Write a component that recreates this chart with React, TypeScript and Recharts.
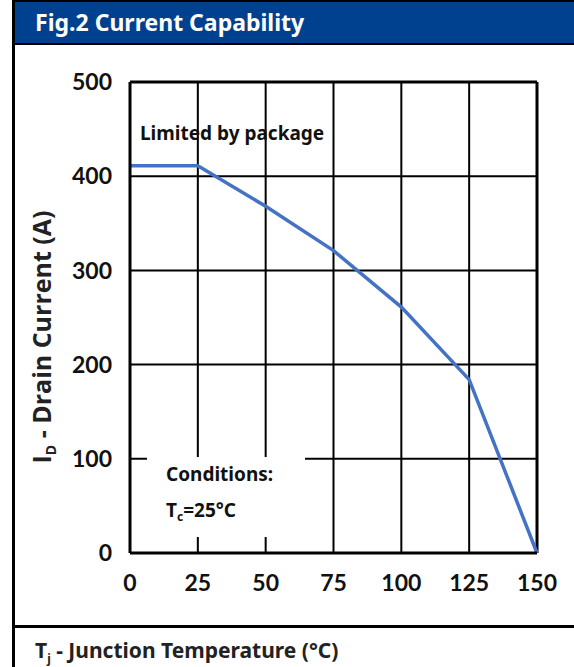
import React from "react";
import { LineChart, Line, XAxis, YAxis, CartesianGrid, ReferenceLine } from "recharts";

const temps = [0, 25, 50, 75, 100, 125, 150];
const currents = [411, 411, 368, 321, 261, 184, 0];
const xTicks = [0, 25, 50, 75, 100, 125, 150];
const yTicks = [0, 100, 200, 300, 400, 500];

const data = temps.map((t, i) => ({ t, id: currents[i] }));

const FONT = "'Noto Sans', 'Open Sans', sans-serif";
const LABEL_FONT = "'Open Sans', 'Noto Sans', sans-serif";
const TICK_FONT = "Lato, 'Noto Sans', sans-serif";

export default function App() {
  const tickStyle = { fill: "#111", fontSize: 23, fontWeight: 700, fontFamily: TICK_FONT };
  return (
    <div style={{ position: "absolute", left: 0, top: 0, width: 574, height: 667, background: "#fff", overflow: "hidden" }}>
      <LineChart
        width={574}
        height={667}
        data={data}
        margin={{ top: 82, right: 37, bottom: 74, left: 70 }}
        style={{ position: "absolute", left: 0, top: 0 }}
      >
        <CartesianGrid stroke="#000" strokeWidth={2} strokeOpacity={1} />
        <XAxis
          dataKey="t"
          type="number"
          domain={[0, 150]}
          ticks={xTicks}
          height={40}
          tickLine={false}
          tickSize={0}
          tickMargin={22}
          axisLine={{ stroke: "#000", strokeWidth: 3 }}
          tick={tickStyle}
          interval={0}
        />
        <YAxis
          type="number"
          domain={[0, 500]}
          ticks={yTicks}
          width={60}
          tickLine={false}
          tickSize={0}
          tickMargin={18}
          axisLine={{ stroke: "#000", strokeWidth: 3 }}
          tick={tickStyle}
          interval={0}
        />
        <ReferenceLine y={500} stroke="#000" strokeWidth={3} />
        <ReferenceLine x={150} stroke="#000" strokeWidth={3} />
        <Line
          type="linear"
          dataKey="id"
          stroke="#4472C4"
          strokeWidth={3.5}
          dot={false}
          isAnimationActive={false}
        />
      </LineChart>

      {/* frame & title band */}
      <div style={{ position: "absolute", left: 12, top: 0, width: 3, height: 667, background: "#000" }} />
      <div style={{ position: "absolute", left: 12, top: 0, width: 562, height: 45, background: "#000" }} />
      <div style={{ position: "absolute", left: 15, top: 2, width: 559, height: 41, background: "#00418F" }} />
      <div style={{ position: "absolute", left: 35, top: 0, height: 44, lineHeight: "44px", color: "#fff", fontFamily: FONT, fontWeight: 700, fontSize: 23, whiteSpace: "nowrap" }}>
        Fig.2 Current Capability
      </div>
      <div style={{ position: "absolute", left: 12, top: 625, width: 562, height: 3, background: "#000" }} />

      {/* x axis label */}
      <div style={{ position: "absolute", left: 35, top: 635, lineHeight: "30px", color: "#222", fontFamily: FONT, fontWeight: 700, fontSize: 21, whiteSpace: "nowrap" }}>
        T<sub style={{ fontSize: 12, verticalAlign: "-5px" }}>j</sub> - Junction Temperature (°C)
      </div>

      {/* y axis label */}
      <div style={{ position: "absolute", left: 46, top: 337, width: 0, height: 0 }}>
        <div style={{ position: "absolute", left: 0, top: 0, transform: "translate(-50%, -50%) rotate(-90deg)", color: "#222", fontFamily: LABEL_FONT, fontWeight: 700, fontSize: 25, whiteSpace: "nowrap", lineHeight: "32px" }}>
          I<sub style={{ fontSize: 14, verticalAlign: "-5px" }}>D</sub> - Drain Current (A)
        </div>
      </div>

      {/* annotations */}
      <div style={{ position: "absolute", left: 140, top: 119, lineHeight: "28px", color: "#111", fontFamily: FONT, fontWeight: 700, fontSize: 19, whiteSpace: "nowrap" }}>
        Limited by package
      </div>
      <div style={{ position: "absolute", left: 147, top: 457, width: 158, height: 80, background: "#fff" }}>
        <div style={{ position: "absolute", left: 19, top: 3, lineHeight: "28px", color: "#111", fontFamily: FONT, fontWeight: 700, fontSize: 19, whiteSpace: "nowrap" }}>
          Conditions:
        </div>
        <div style={{ position: "absolute", left: 19, top: 39, lineHeight: "28px", color: "#111", fontFamily: FONT, fontWeight: 700, fontSize: 19, whiteSpace: "nowrap" }}>
          T<sub style={{ fontSize: 12, verticalAlign: "-4px" }}>c</sub>=25°C
        </div>
      </div>
    </div>
  );
}
